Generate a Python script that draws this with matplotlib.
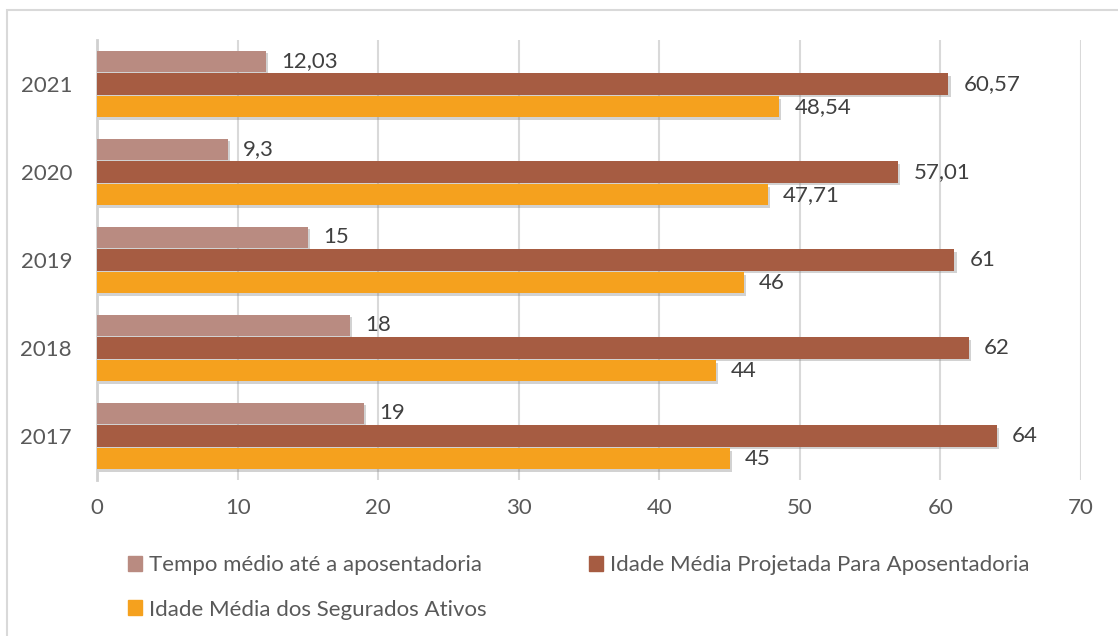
import numpy as np
import matplotlib.pyplot as plt
import matplotlib.patheffects as pe
from matplotlib.patches import Rectangle, Patch

plt.rcParams['font.family'] = ['Lato', 'DejaVu Sans']

anos = ["2017", "2018", "2019", "2020", "2021"]
tempo_medio = [19, 18, 15, 9.3, 12.03]
idade_projetada = [64, 62, 61, 57.01, 60.57]
idade_ativos = [45, 44, 46, 47.71, 48.54]

nome_tempo = "Tempo médio até a aposentadoria"
nome_projetada = "Idade Média Projetada Para Aposentadoria"
nome_ativos = "Idade Média dos Segurados Ativos"

cor_tempo = "#b98b81"
cor_projetada = "#a65c42"
cor_ativos = "#f5a11e"


def fmt(v):
    s = f"{v:.2f}".rstrip("0").rstrip(".")
    return s.replace(".", ",")


fig = plt.figure(figsize=(11.18, 6.36), dpi=100)
ax = fig.add_axes([0.0868, 0.2453, 0.8801, 0.6918])

y = np.arange(len(anos))
h = 0.24
step = 0.26
shadow = [pe.SimplePatchShadow(offset=(1.5, -2), alpha=0.35, shadow_rgbFace="#808080"), pe.Normal()]

series = [
    (tempo_medio, step, cor_tempo),
    (idade_projetada, 0, cor_projetada),
    (idade_ativos, -step, cor_ativos),
]
for vals, off, cor in series:
    bars = ax.barh(y + off, vals, height=h, color=cor, zorder=3)
    for b, v in zip(bars, vals):
        b.set_path_effects(shadow)
        ax.text(v + 1.1, b.get_y() + h / 2, fmt(v), va="center", ha="left",
                fontsize=16, color="#404040", zorder=4)

ax.set_xlim(0, 70)
ax.set_ylim(-0.5, len(anos) - 0.5)
ax.set_xticks(range(0, 71, 10))
ax.set_yticks(y)
ax.set_yticklabels(anos)
ax.tick_params(axis="x", length=0, pad=13, labelsize=16, labelcolor="#595959")
ax.tick_params(axis="y", length=0, pad=18, labelsize=16, labelcolor="#595959")
ax.grid(axis="x", color="#d9d9d9", linewidth=1.5, zorder=0)
for s in ["top", "right", "bottom"]:
    ax.spines[s].set_visible(False)
ax.spines["left"].set_color("#d0d0d0")
ax.spines["left"].set_linewidth(2)
ax.spines["left"].set_zorder(2)

handles = [Patch(color=cor_tempo), Patch(color=cor_ativos), Patch(color=cor_projetada)]
labels = [nome_tempo, nome_ativos, nome_projetada]
fig.legend(handles, labels, ncol=2, loc="upper left", bbox_to_anchor=(0.1145, 0.127),
           frameon=False, fontsize=16, labelcolor="#595959", handlelength=0.65,
           handleheight=0.65, handletextpad=0.3, columnspacing=4.6, labelspacing=1.1,
           borderaxespad=0, borderpad=0)

fig.patches.append(Rectangle((7 / 1118, -0.1), 1.2, 1.1 - 10 / 636, transform=fig.transFigure,
                             fill=False, edgecolor="#d9d9d9", linewidth=1.5))

fig.savefig("out.png", dpi=100)
